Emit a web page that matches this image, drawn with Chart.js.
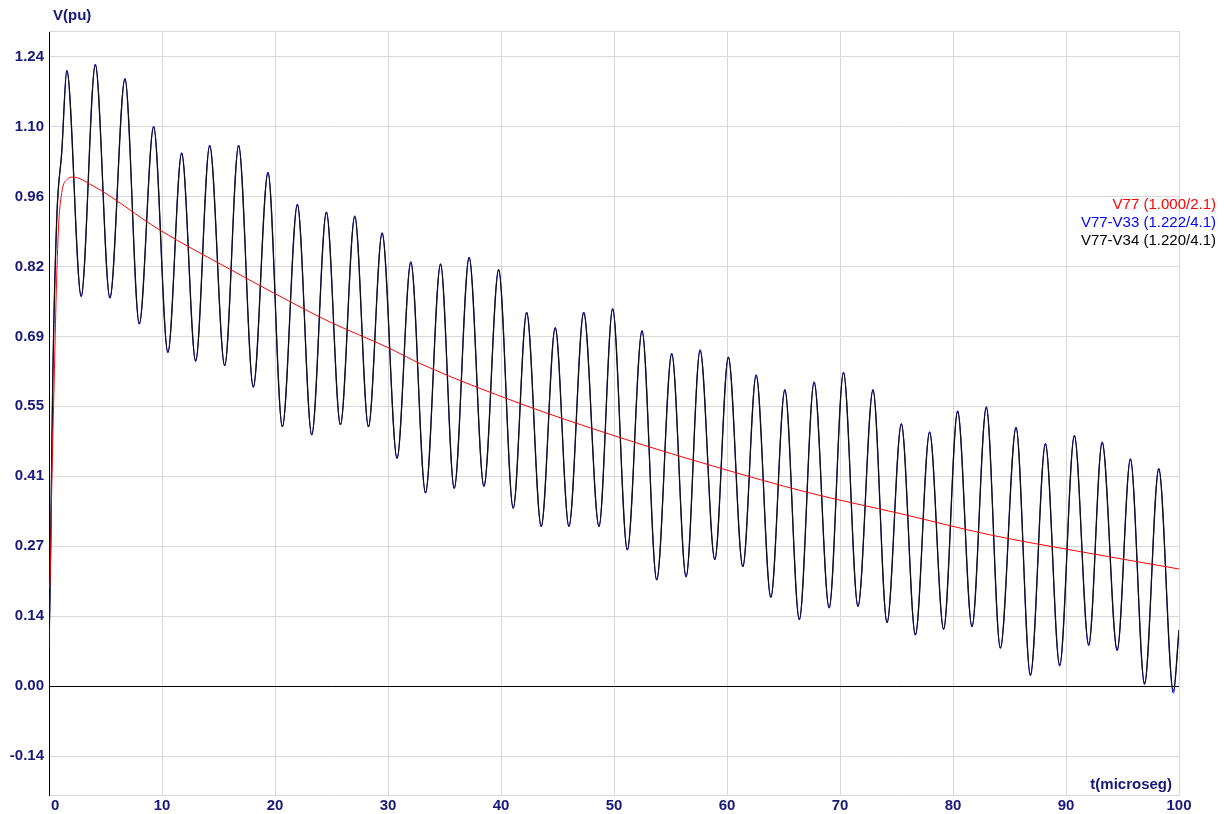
<!DOCTYPE html>
<html>
<head>
<meta charset="utf-8">
<script src="https://cdn.jsdelivr.net/npm/chart.js@4/dist/chart.umd.min.js"></script>
<style>
  html, body { margin: 0; padding: 0; background: #ffffff; }
  #grafico { display: block; }
</style>
</head>
<body>
<canvas id="grafico" width="1224" height="814"></canvas>
<script>
// Tensão V77 (curva vermelha), tempo em microssegundos
const tempoV77 = [0, 0.1, 0.25, 0.46, 0.64, 0.84, 1.13, 1.58, 2.1, 3.8, 9.8, 16, 20, 24.8, 30, 33, 41.7, 50, 58.5, 67.4, 75.3, 83.3, 91.3, 100];
const valoresV77 = [0.19, 0.21, 0.40, 0.60, 0.77, 0.90, 0.97, 0.995, 1.000, 0.984, 0.896, 0.819, 0.771, 0.716, 0.665, 0.632, 0.555, 0.492, 0.434, 0.379, 0.339, 0.297, 0.264, 0.230];

// Picos e vales das tensões diferenciais (V77-V33 e V77-V34)
const tempoOsc = [0, 0.1, 0.34, 0.69, 1.13, 1.58, 2.85, 4.1, 5.39, 6.72, 7.99, 9.26, 10.52, 11.74, 12.98, 14.22, 15.55, 16.78, 18.08, 19.38,
  20.65, 21.98, 23.25, 24.55, 25.79, 27.06, 28.27, 29.48, 30.8, 32.02, 33.32, 34.65, 35.86, 37.18, 38.49, 39.79, 41.08, 42.27, 43.56, 44.8,
  46.01, 47.32, 48.67, 49.88, 51.18, 52.48, 53.78, 55.11, 56.38, 57.62, 58.92, 60.12, 61.4, 62.58, 63.88, 65.12, 66.4, 67.71, 69.04, 70.31,
  71.59, 72.92, 74.16, 75.43, 76.67, 77.93, 79.17, 80.41, 81.68, 82.95, 84.19, 85.58, 86.85, 88.18, 89.44, 90.74, 92.01, 93.2, 94.53, 95.7,
  96.95, 98.21, 99.5, 100];
const valoresV33 = [0.07, 0.2, 0.61, 0.92, 1.05, 1.21, 0.765, 1.222, 0.762, 1.194, 0.711, 1.100, 0.655, 1.048, 0.638, 1.063, 0.629, 1.063, 0.587, 1.010,
  0.509, 0.947, 0.493, 0.932, 0.513, 0.924, 0.509, 0.891, 0.447, 0.834, 0.379, 0.830, 0.388, 0.843, 0.392, 0.819, 0.349, 0.735, 0.313, 0.705,
  0.313, 0.735, 0.313, 0.742, 0.267, 0.699, 0.208, 0.654, 0.214, 0.661, 0.248, 0.647, 0.234, 0.612, 0.174, 0.583, 0.130, 0.598, 0.153, 0.617,
  0.156, 0.583, 0.124, 0.516, 0.100, 0.500, 0.111, 0.541, 0.116, 0.549, 0.074, 0.509, 0.020, 0.477, 0.039, 0.493, 0.079, 0.480, 0.069, 0.447,
  0.003, 0.428, -0.014, 0.11];
const valoresV34 = [0.07, 0.2, 0.61, 0.92, 1.05, 1.208, 0.766, 1.220, 0.763, 1.192, 0.712, 1.098, 0.656, 1.046, 0.639, 1.061, 0.630, 1.061, 0.588, 1.008,
  0.510, 0.945, 0.494, 0.930, 0.514, 0.922, 0.510, 0.889, 0.448, 0.832, 0.380, 0.828, 0.389, 0.841, 0.393, 0.817, 0.350, 0.733, 0.314, 0.703,
  0.314, 0.733, 0.314, 0.740, 0.268, 0.697, 0.209, 0.652, 0.215, 0.659, 0.249, 0.645, 0.235, 0.610, 0.175, 0.581, 0.131, 0.596, 0.154, 0.615,
  0.157, 0.581, 0.125, 0.514, 0.101, 0.498, 0.112, 0.539, 0.117, 0.547, 0.075, 0.507, 0.023, 0.475, 0.042, 0.491, 0.082, 0.478, 0.072, 0.445,
  0.006, 0.426, -0.009, 0.11];

// Eixos
const rotulosY = ['-0.14', '0.00', '0.14', '0.27', '0.41', '0.55', '0.69', '0.82', '0.96', '1.10', '1.24'];
const passoY = 0.1374;
const rotulosLegenda = ['V77 (1.000/2.1)', 'V77-V33 (1.222/4.1)', 'V77-V34 (1.220/4.1)'];
const coresSeries = ['#ff0000', '#0000ff', '#000000'];

const corTexto = '#17177c';
const corGrade = '#d9d9d9';
const fonte = 'Arial, "Liberation Sans", sans-serif';

function pares(xs, ys) {
    return xs.map((x, i) => ({ x: x, y: ys[i] }));
}

// Textos extras: título dos eixos, moldura e legenda à direita
const textosPlugin = {
    id: 'textos',
    beforeDatasetsDraw(chart) {
        const { ctx, chartArea } = chart;
        ctx.save();
        ctx.strokeStyle = corGrade;
        ctx.lineWidth = 1;
        ctx.beginPath();
        ctx.moveTo(chartArea.left, chartArea.top + 0.5);
        ctx.lineTo(chartArea.right + 0.5, chartArea.top + 0.5);
        ctx.lineTo(chartArea.right + 0.5, chartArea.bottom);
        ctx.stroke();
        ctx.restore();
    },
    afterDraw(chart) {
        const { ctx, chartArea } = chart;
        ctx.save();
        ctx.fillStyle = corTexto;
        ctx.font = 'bold 15px ' + fonte;
        ctx.textBaseline = 'middle';
        ctx.textAlign = 'left';
        ctx.fillText('V(pu)', 53, 16);
        ctx.textAlign = 'right';
        ctx.fillText('t(microseg)', chartArea.right - 7, 785);

        ctx.font = '15px ' + fonte;
        rotulosLegenda.forEach((txt, i) => {
            ctx.fillStyle = coresSeries[i];
            ctx.fillText(txt, 1216, 205 + i * 18);
        });
        ctx.restore();
    }
};

new Chart(document.getElementById('grafico'), {
    type: 'line',
    data: {
        datasets: [
            {
                label: rotulosLegenda[0],
                data: pares(tempoV77, valoresV77),
                borderColor: coresSeries[0],
                borderWidth: 1,
                cubicInterpolationMode: 'monotone',
                pointRadius: 0,
                order: 0
            },
            {
                label: rotulosLegenda[1],
                data: pares(tempoOsc, valoresV33),
                borderColor: coresSeries[1],
                borderWidth: 1,
                cubicInterpolationMode: 'monotone',
                pointRadius: 0,
                order: 2
            },
            {
                label: rotulosLegenda[2],
                data: pares(tempoOsc, valoresV34),
                borderColor: '#111111',
                borderWidth: 1.3,
                cubicInterpolationMode: 'monotone',
                pointRadius: 0,
                order: 1
            }
        ]
    },
    options: {
        responsive: false,
        animation: false,
        devicePixelRatio: 1,
        layout: { padding: { left: 0, right: 45, top: 31, bottom: 0 } },
        plugins: {
            legend: { display: false },
            tooltip: { enabled: false }
        },
        scales: {
            x: {
                type: 'linear',
                min: 0,
                max: 100,
                afterFit(scale) { scale.height = 19; },
                ticks: {
                    stepSize: 10,
                    padding: 2,
                    color: corTexto,
                    font: { family: fonte, size: 15, weight: 'bold' },
                    maxRotation: 0,
                    callback: (valor) => (valor === 0 ? '   0' : String(valor))
                },
                grid: { color: corGrade, lineWidth: 1, drawTicks: false },
                border: { color: corGrade }
            },
            y: {
                type: 'linear',
                min: -0.214,
                max: 1.287,
                afterFit(scale) { scale.width = 49; },
                afterBuildTicks(scale) {
                    scale.ticks = rotulosY.map((_, i) => ({ value: (i - 1) * passoY }));
                },
                ticks: {
                    padding: 5,
                    color: corTexto,
                    font: { family: fonte, size: 15, weight: 'bold' },
                    callback: (valor, indice) => rotulosY[indice]
                },
                grid: {
                    drawTicks: false,
                    lineWidth: 1,
                    color: (c) => (c.tick && Math.abs(c.tick.value) < 1e-9 ? '#000000' : corGrade)
                },
                border: { color: '#000000', width: 1 }
            }
        }
    },
    plugins: [textosPlugin]
});
</script>
</body>
</html>
